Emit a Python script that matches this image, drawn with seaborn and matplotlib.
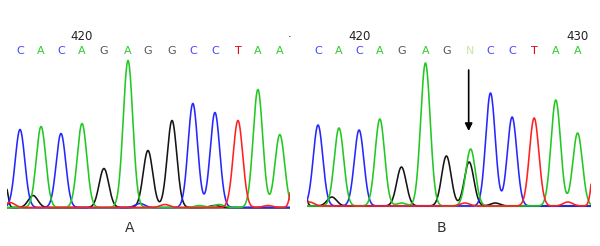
import numpy as np
import pandas as pd
import matplotlib
matplotlib.use("Agg")
import matplotlib.pyplot as plt
import seaborn as sns

# ---------------- data ----------------
# Panel A : base calls, main peak positions (base units) and heights (signal)
calls_A = list("CACAGAGGCCTAA")
peak_pos_A = [0.02, 0.99, 1.91, 2.88, 3.89, 5.00, 5.92, 7.03, 7.99, 9.01, 10.07, 10.99, 12.00]
peak_height_A = [78, 81, 74, 84, 39, 147, 57, 87, 104, 95, 87, 118, 73]
# small background peaks in panel A
minor_base_A = ["G", "G", "T", "C", "T", "A", "A", "G", "T", "T"]
minor_pos_A = [-0.62, 0.62, -0.44, 5.55, 6.70, 8.30, 9.20, 9.00, 11.45, 12.70]
minor_height_A = [20, 12, 5, 4, 3, 2, 3, 2, 2, 48]

# Panel B : heterozygous position shown as N (green + black peaks)
calls_B = list("CACAGAGNCCTAA")
peak_base_B = ["C", "A", "C", "A", "G", "A", "G", "A", "G", "C", "C", "T", "A", "A"]
peak_pos_B = [0.00, 0.97, 1.90, 2.86, 3.86, 4.97, 5.94, 7.06, 6.99, 7.98, 8.98, 10.00, 11.00, 12.01]
peak_height_B = [81, 78, 76, 87, 39, 143, 50, 57, 44, 113, 89, 88, 106, 73]
call_pos_B = [0.00, 0.97, 1.90, 2.86, 3.86, 4.97, 5.94, 7.02, 7.98, 8.98, 10.00, 11.00, 12.01]
minor_base_B = ["G", "G", "T", "T", "G", "T", "A", "T"]
minor_pos_B = [-0.60, 0.64, -0.40, 6.80, 8.20, 11.56, 3.86, 12.85]
minor_height_B = [12, 9, 4, 3, 3, 4, 3, 64]

pos_labels_A = {3: "420"}
pos_labels_B = {2: "420", 12: "430"}
panel_labels = ["A", "B"]
arrow_index_B = 7

# ---------------- styles ----------------
trace_colors = {"A": "#22c822", "C": "#2626ff", "G": "#151515", "T": "#ff2020"}
call_colors = {"A": "#2ecc2e", "C": "#4646ff", "G": "#555555", "T": "#dd0000", "N": "#c6e6a0"}
SIG = 0.22


def build_traces(xs, bases, pos, heights, mbases, mpos, mheights):
    rows = []
    for b in "ACGT":
        y = np.zeros_like(xs)
        for bb, p, h in zip(bases, pos, heights):
            if bb == b:
                y += h * np.exp(-(xs - p) ** 2 / (2 * SIG ** 2))
        for bb, p, h in zip(mbases, mpos, mheights):
            if bb == b:
                s = 0.09 if (p < -0.5 or p > 12.5) else SIG
                if h > 30:
                    s = 0.15
                y += h * np.exp(-(xs - p) ** 2 / (2 * s ** 2))
        rows.append(pd.DataFrame({"scan": xs, "signal": y, "base": b}))
    return pd.concat(rows, ignore_index=True)


W, H = 600, 246
fig = plt.figure(figsize=(W / 100, H / 100), dpi=100)
sns.set_style("white")
plt.rcParams["font.family"] = ["DejaVu Sans"]

panels = [
    dict(x0=7, x1=290, base_px=207.5, xlim=(-0.58, 12.47),
         calls=calls_A, call_pos=peak_pos_A, bases=calls_A, pos=peak_pos_A, heights=peak_height_A,
         mb=minor_base_A, mp=minor_pos_A, mh=minor_height_A, labels=pos_labels_A, lab_x=130),
    dict(x0=307, x1=591, base_px=206.0, xlim=(-0.51, 12.63),
         calls=calls_B, call_pos=call_pos_B, bases=peak_base_B, pos=peak_pos_B, heights=peak_height_B,
         mb=minor_base_B, mp=minor_pos_B, mh=minor_height_B, labels=pos_labels_B, lab_x=441),
]

for k, p in enumerate(panels):
    bottom_px = p["base_px"] + 1.5
    ax = fig.add_axes([p["x0"] / W, 1 - bottom_px / H, (p["x1"] - p["x0"]) / W, bottom_px / H])
    ax.set_xlim(*p["xlim"])
    ax.set_ylim(-1.5, p["base_px"])
    ax.set_axis_off()
    ax.axhline(0, color="#858585", lw=1.6, zorder=1)
    xs = np.linspace(p["xlim"][0], p["xlim"][1], 1500)
    df = build_traces(xs, p["bases"], p["pos"], p["heights"], p["mb"], p["mp"], p["mh"])
    sns.lineplot(data=df, x="scan", y="signal", hue="base", palette=trace_colors,
                 hue_order=["G", "C", "A", "T"], estimator=None, sort=False,
                 legend=False, lw=1.15, ax=ax, zorder=2)
    # base calls
    y_call = p["base_px"] - 51
    for c, xp in zip(p["calls"], p["call_pos"]):
        ax.text(xp, y_call, c, color=call_colors[c], fontsize=8, ha="center", va="center",
                clip_on=False)
    for idx, lab in p["labels"].items():
        ax.text(p["call_pos"][idx], p["base_px"] - 36, lab, color="#222222", fontsize=8.5,
                ha="center", va="center", clip_on=False)
    fig.text(p["lab_x"] / W, 1 - 228 / H, panel_labels[k], fontsize=10, color="#333333",
             ha="center", va="center")
    if k == 0:
        ax.text(p["xlim"][1], p["base_px"] - 37, "·", fontsize=8, color="black",
                ha="center", va="center", clip_on=False)
    else:
        xa = p["call_pos"][arrow_index_B]
        ax.annotate("", xy=(xa - 0.05, p["base_px"] - 131), xytext=(xa - 0.05, p["base_px"] - 70),
                    arrowprops=dict(arrowstyle="-|>", color="black", lw=1.2,
                                    mutation_scale=11, shrinkA=0, shrinkB=0))

fig.savefig("out.png", dpi=100, facecolor="white")
